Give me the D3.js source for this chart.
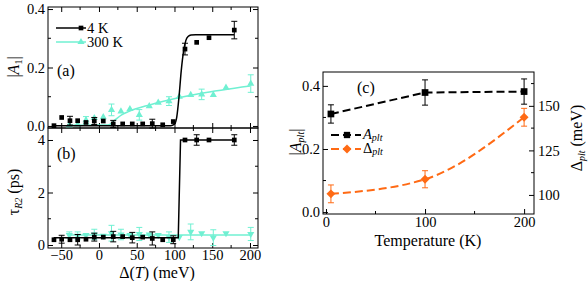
<!DOCTYPE html>
<html>
<head>
<meta charset="utf-8">
<script src="https://cdn.jsdelivr.net/npm/d3@7"></script>
<style>
  body { margin: 0; background: #fff; }
  .axis line { stroke: #000; stroke-width: 1; }
  .axis text { fill: #000; }
</style>
</head>
<body>
<svg id="chart" width="588" height="281"></svg>
<script>
// ---- data ----
const deltaTicks = [-50, 0, 50, 100, 150, 200];
const a1Ticks = [0, 0.2, 0.4];
const tauTicks = [0, 2, 4];
const tempTicks = [0, 100, 200];
const aPltTicks = [0, 0.2, 0.4];
const dPltTicks = [100, 125, 150];

// 4 K points
const delta4K = [-59.6, -49.4, -38.4, -28.2, -17.2, -6.2, 5.7, 18.9, 31.4, 44.1, 57.9, 70.6, 84.4, 98.4, 113.9, 129.4, 145.7, 179.2];
const a1_4K = [0.001, 0.029, 0.018, 0.018, 0.012, 0.017, 0.017, 0.007, 0.007, 0.007, 0.007, 0.008, 0.004, 0.015, 0.263, 0.286, 0.302, 0.328];
const a1Err4K = [0, 0, 0.015, 0, 0, 0.012, 0, 0.012, 0, 0, 0, 0.015, 0, 0, 0.02, 0, 0, 0.03];
const tau4K = [0.2, 0.22, 0.2, 0.2, 0.22, 0.3, 0.3, 0.32, 0.32, 0.28, 0.3, 0.25, 0.2, 0.2, 4.0, 4.0, 4.0, 4.0];
const tauErr4K = [0, 0.15, 0, 0.2, 0, 0.15, 0, 0.2, 0, 0.2, 0, 0.25, 0, 0.15, 0, 0.2, 0, 0.2];

// 300 K points
const delta300K = [-39.3, -28.2, -17.2, -6.2, 5.7, 16.6, 29.1, 41, 53.4, 66.6, 78.5, 92.7, 106.4, 121.5, 136, 151.4, 168.2, 201];
const a1_300K = [0.003, 0.005, 0.02, 0.027, 0.03, 0.055, 0.05, 0.058, 0.038, 0.068, 0.08, 0.085, 0.1, 0.106, 0.108, 0.106, 0.131, 0.145];
const a1Err300K = [0, 0, 0.012, 0, 0, 0.02, 0, 0, 0.018, 0, 0, 0.015, 0, 0, 0.018, 0, 0, 0.03];
const tau300K = [0.38, 0.35, 0.38, 0.4, 0.35, 0.45, 0.4, 0.38, 0.42, 0.4, 0.38, 0.3, 0.3, 0.5, 0.45, 0.28, 0.45, 0.42];
const tauErr300K = [0.12, 0.15, 0, 0.2, 0, 0.3, 0.2, 0, 0.25, 0, 0, 0.2, 0, 0.3, 0, 0.3, 0, 0.25];

// fit curves
const fitDeltaA4K = [-60, 95, 100, 103, 106, 109, 112, 115, 118, 122, 128, 179];
const fitA4K = [0.001, 0.001, 0.006, 0.03, 0.1, 0.19, 0.255, 0.292, 0.306, 0.311, 0.312, 0.312];
const fitDeltaA300K = [-39, 12, 20, 30, 40, 67, 107, 134, 200];
const fitA300K = [0.002, 0.003, 0.018, 0.038, 0.05, 0.072, 0.097, 0.111, 0.137];
const fitDeltaTau4K = [-60, 105, 108, 179];
const fitTau4K = [0.28, 0.28, 4.0, 4.0];
const fitDeltaTau300K = [-40, 200];
const fitTau300K = [0.38, 0.38];

// panel (c)
const temperature = [5, 100, 200];
const aPlt = [0.311, 0.379, 0.382];
const aPltErr = [0.029, 0.04, 0.04];
const deltaPlt = [100.6, 108.8, 143.6];
const deltaPltErr = [5, 4.8, 5];

const cyan = '#70f0d2';
const orange = '#ff6a14';
const tickFont = 14.5;

const svg = d3.select('#chart');

function inwardAxis(g, axis, tx, ty) {
  const a = g.append('g').attr('class', 'axis').attr('transform', `translate(${tx},${ty})`).call(axis);
  a.attr('font-size', tickFont);
  a.select('.domain').remove();
  return a;
}

function minorTicks(g, scale, values, orient, x0, y0, len) {
  values.forEach(v => {
    const p = scale(v);
    if (orient === 'bottom') g.append('line').attr('x1', p).attr('x2', p).attr('y1', y0).attr('y2', y0 - len);
    if (orient === 'top') g.append('line').attr('x1', p).attr('x2', p).attr('y1', y0).attr('y2', y0 + len);
    if (orient === 'left') g.append('line').attr('y1', p).attr('y2', p).attr('x1', x0).attr('x2', x0 + len);
    if (orient === 'right') g.append('line').attr('y1', p).attr('y2', p).attr('x1', x0).attr('x2', x0 - len);
  });
}

function errorBars(g, xs, ys, errs, x, y, color) {
  xs.forEach((d, i) => {
    if (!errs[i]) return;
    const cx = x(d);
    g.append('line').attr('x1', cx).attr('x2', cx).attr('y1', y(ys[i] - errs[i])).attr('y2', y(ys[i] + errs[i]))
      .attr('stroke', color).attr('stroke-width', 1);
    [ys[i] - errs[i], ys[i] + errs[i]].forEach(v => {
      g.append('line').attr('x1', cx - 3).attr('x2', cx + 3).attr('y1', y(v)).attr('y2', y(v))
        .attr('stroke', color).attr('stroke-width', 1);
    });
  });
}

function symMarkers(g, xs, ys, x, y, type, size, color, rot) {
  g.selectAll(null).data(xs).enter().append('path')
    .attr('d', d3.symbol().type(type).size(size))
    .attr('transform', (d, i) => `translate(${x(d)},${y(ys[i])}) rotate(${rot || 0})`)
    .attr('fill', color);
}

function fitLine(g, xs, ys, x, y, color, width, curve) {
  const line = d3.line().x(d => x(d[0])).y(d => y(d[1])).curve(curve || d3.curveMonotoneX);
  g.append('path').datum(xs.map((d, i) => [d, ys[i]]))
    .attr('d', line).attr('fill', 'none').attr('stroke', color).attr('stroke-width', width);
}

function label(g, tx, ty, rotate, anchor, size) {
  return g.append('text').attr('font-size', size || 16).attr('fill', '#000')
    .attr('text-anchor', anchor || 'start')
    .attr('transform', `translate(${tx},${ty})` + (rotate ? ` rotate(${rotate})` : ''));
}

// ---- panels (a) and (b) ----
const left = 48, right = 258;
const x = d3.scaleLinear().domain([-67.5, 210.6]).range([left, right]);
const yA = d3.scaleLinear().domain([-0.007, 0.407]).range([128, 7]);
const yB = d3.scaleLinear().domain([-0.114, 4.457]).range([248, 128]);

function framePanel(y, top, bottom, yTicks, yMinor, fmt, showXLabels) {
  const g = svg.append('g');
  g.append('rect').attr('x', left).attr('y', top).attr('width', right - left).attr('height', bottom - top)
    .attr('fill', 'none').attr('stroke', '#000');
  const xb = inwardAxis(g, d3.axisBottom(x).tickValues(deltaTicks).tickSizeInner(-5).tickSizeOuter(0).tickPadding(2), 0, bottom);
  if (!showXLabels) xb.selectAll('text').remove();
  inwardAxis(g, d3.axisTop(x).tickValues(deltaTicks).tickSizeInner(-5).tickSizeOuter(0), 0, top)
    .selectAll('text').remove();
  inwardAxis(g, d3.axisLeft(y).tickValues(yTicks).tickFormat(fmt).tickSizeInner(-5).tickSizeOuter(0).tickPadding(3), left, 0);
  inwardAxis(g, d3.axisRight(y).tickValues(yTicks).tickSizeInner(-5).tickSizeOuter(0), right, 0)
    .selectAll('text').remove();
  const mg = g.append('g').attr('stroke', '#000');
  const xMinor = [-50, -25, 0, 25, 50, 75, 100, 125, 150, 175, 200].filter(v => !deltaTicks.includes(v));
  minorTicks(mg, x, xMinor, 'bottom', 0, bottom, 3);
  minorTicks(mg, x, xMinor, 'top', 0, top, 3);
  minorTicks(mg, y, yMinor, 'left', left, 0, 3);
  minorTicks(mg, y, yMinor, 'right', right, 0, 3);
  return g;
}

framePanel(yA, 7, 128, a1Ticks, [0.1, 0.3], d3.format('.1f'), false);
framePanel(yB, 128, 248, tauTicks, [1, 3], d3.format('d'), true);

// (a) data
const pa = svg.append('g');
fitLine(pa, fitDeltaA300K, fitA300K, x, yA, cyan, 1.5);
errorBars(pa, delta300K, a1_300K, a1Err300K, x, yA, cyan);
symMarkers(pa, delta300K, a1_300K, x, yA, d3.symbolTriangle, 22, cyan);
fitLine(pa, fitDeltaA4K, fitA4K, x, yA, '#000', 1.5);
errorBars(pa, delta4K, a1_4K, a1Err4K, x, yA, '#000');
symMarkers(pa, delta4K, a1_4K, x, yA, d3.symbolSquare, 22, '#000');

// (b) data
const pb = svg.append('g');
fitLine(pb, fitDeltaTau300K, fitTau300K, x, yB, cyan, 1.5, d3.curveLinear);
errorBars(pb, delta300K, tau300K, tauErr300K, x, yB, cyan);
symMarkers(pb, delta300K, tau300K, x, yB, d3.symbolTriangle, 22, cyan, 180);
fitLine(pb, fitDeltaTau4K, fitTau4K, x, yB, '#000', 1.5, d3.curveLinear);
errorBars(pb, delta4K, tau4K, tauErr4K, x, yB, '#000');
symMarkers(pb, delta4K, tau4K, x, yB, d3.symbolSquare, 22, '#000');

// legend (a)
const legA = svg.append('g');
[['4 K', '#000', d3.symbolSquare, 28], ['300 K', cyan, d3.symbolTriangle, 42]].forEach(([t, c, s, ly]) => {
  legA.append('line').attr('x1', 56).attr('x2', 86).attr('y1', ly).attr('y2', ly).attr('stroke', c).attr('stroke-width', 1.5);
  legA.append('path').attr('d', d3.symbol().type(s).size(22)).attr('transform', `translate(81,${ly})`).attr('fill', c);
  label(legA, 87, ly + 4.5, 0, 'start', 14.5).text(t);
});
label(svg, 57, 76).text('(a)');
label(svg, 57, 159).text('(b)');

// axis titles (a),(b)
const tA = label(svg, 19, 67, -90, 'middle');
tA.append('tspan').text('|');
tA.append('tspan').attr('font-style', 'italic').text('A');
tA.append('tspan').attr('font-size', 10).attr('dy', 3).text('1');
tA.append('tspan').attr('dy', -3).text('|');

const tB = label(svg, 19, 192, -90, 'middle');
tB.append('tspan').text('τ');
tB.append('tspan').attr('font-size', 10).attr('font-style', 'italic').attr('dy', 3).text('R2');
tB.append('tspan').attr('dy', -3).text(' (ps)');

const tX = label(svg, 157, 278, 0, 'middle');
tX.append('tspan').text('Δ(');
tX.append('tspan').attr('font-style', 'italic').text('T');
tX.append('tspan').text(') (meV)');

// ---- panel (c) ----
const cl = 323, cr = 534, ct = 72, cb = 214;
const xT = d3.scaleLinear().domain([-3, 210]).range([cl, cr]);
const yP = d3.scaleLinear().domain([-0.006, 0.444]).range([cb, ct]);
const yD = d3.scaleLinear().domain([89.3, 169]).range([cb, ct]);

const gC = svg.append('g');
gC.append('rect').attr('x', cl).attr('y', ct).attr('width', cr - cl).attr('height', cb - ct)
  .attr('fill', 'none').attr('stroke', '#000');
inwardAxis(gC, d3.axisBottom(xT).tickValues(tempTicks).tickSizeInner(-5).tickSizeOuter(0).tickPadding(3), 0, cb);
inwardAxis(gC, d3.axisLeft(yP).tickValues(aPltTicks).tickFormat(d3.format('.1f')).tickSizeInner(-5).tickSizeOuter(0).tickPadding(3), cl, 0);
inwardAxis(gC, d3.axisRight(yD).tickValues(dPltTicks).tickSizeInner(-5).tickSizeOuter(0).tickPadding(4), cr, 0);
const mc = gC.append('g').attr('stroke', '#000');
minorTicks(mc, xT, [50, 150], 'bottom', 0, cb, 3);
minorTicks(mc, yP, [0.1, 0.3], 'left', cl, 0, 3);
minorTicks(mc, yD, [112.5, 137.5, 162.5], 'right', cr, 0, 3);

const pc = svg.append('g');
const dashLine = (xs, ys, y, c, curve) => {
  const line = d3.line().x(d => xT(d[0])).y(d => y(d[1])).curve(curve);
  pc.append('path').datum(xs.map((d, i) => [d, ys[i]])).attr('d', line)
    .attr('fill', 'none').attr('stroke', c).attr('stroke-width', 2).attr('stroke-dasharray', '8,4');
};
dashLine(temperature, deltaPlt, yD, orange, d3.curveMonotoneX);
dashLine(temperature, aPlt, yP, '#000', d3.curveLinear);
errorBars(pc, temperature, deltaPlt, deltaPltErr, xT, yD, orange);
symMarkers(pc, temperature, deltaPlt, xT, yD, d3.symbolSquare, 40, orange, 45);
errorBars(pc, temperature, aPlt, aPltErr, xT, yP, '#000');
symMarkers(pc, temperature, aPlt, xT, yP, d3.symbolSquare, 45, '#000');

// legend (c)
const legC = svg.append('g');
[['#000', 135, 0], [orange, 149, 45]].forEach(([c, ly, rot]) => {
  legC.append('line').attr('x1', 331).attr('x2', 361).attr('y1', ly).attr('y2', ly)
    .attr('stroke', c).attr('stroke-width', 2).attr('stroke-dasharray', '8,4');
  legC.append('path').attr('d', d3.symbol().type(d3.symbolSquare).size(40))
    .attr('transform', `translate(347,${ly}) rotate(${rot})`).attr('fill', c);
});
const lc1 = label(legC, 363, 139, 0, 'start', 14.5);
lc1.append('tspan').attr('font-style', 'italic').text('A');
lc1.append('tspan').attr('font-style', 'italic').attr('font-size', 10).attr('dy', 2).text('plt');
const lc2 = label(legC, 363, 153, 0, 'start', 14.5);
lc2.append('tspan').text('Δ');
lc2.append('tspan').attr('font-style', 'italic').attr('font-size', 10).attr('dy', 2).text('plt');

label(svg, 357, 93).text('(c)');
label(svg, 428, 246, 0, 'middle').text('Temperature (K)');

const tL = label(svg, 301, 142, -90, 'middle');
tL.append('tspan').text('|');
tL.append('tspan').attr('font-style', 'italic').text('A');
tL.append('tspan').attr('font-style', 'italic').attr('font-size', 10).attr('dy', 3).text('plt');
tL.append('tspan').attr('dy', -3).text('|');
const tR = label(svg, 582, 138, -90, 'middle');
tR.append('tspan').text('Δ');
tR.append('tspan').attr('font-style', 'italic').attr('font-size', 10).attr('dy', 3).text('plt');
tR.append('tspan').attr('dy', -3).text(' (meV)');

// serif font everywhere (inline style wins over the axis defaults)
svg.selectAll('text').style('font-family', "'Liberation Serif'");
</script>
</body>
</html>
